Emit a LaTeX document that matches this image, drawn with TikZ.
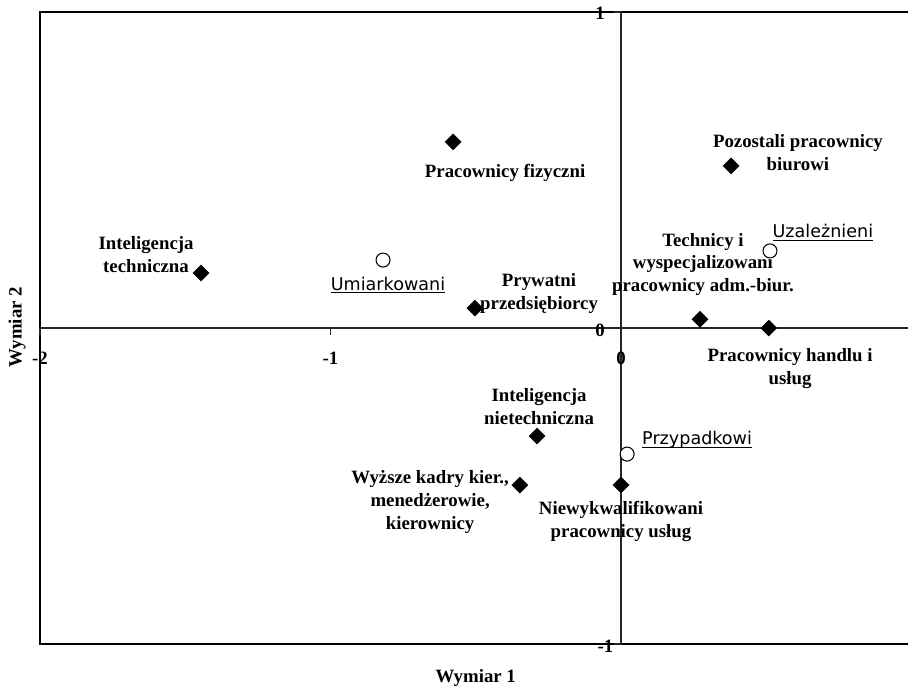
\documentclass[tikz,border=0pt]{standalone}
\usepackage{fontspec}
\setmainfont{Liberation Serif}
\newfontfamily\chartsans{DejaVu Sans}
\usepackage{tikz}
\usetikzlibrary{shapes.geometric}
\newcommand{\grp}[1]{\setbox0\hbox{\chartsans #1}\rlap{\rule[-1.8pt]{\wd0}{0.75pt}}\box0}

\begin{document}
\begin{tikzpicture}[
  x=5.81cm,y=6.32cm,
  every node/.style={inner sep=0pt},
  frame/.style={line width=1.1pt,black},
  axis/.style={line width=0.8pt,black!85},
  tick/.style={font=\fontsize{10.7}{13}\selectfont\bfseries},
  lbl/.style={font=\fontsize{10.7}{13}\selectfont\bfseries,align=center},
  grplbl/.style={font=\fontsize{10}{12}\selectfont},
  occ/.style={diamond,fill=black,minimum size=0.34cm},
  grp/.style={circle,draw=black,fill=white,line width=0.6pt,minimum size=0.28cm}
]
\useasboundingbox (-2.1377,-1.1329) rectangle (0.988,1.038);
% frame and axes
\draw[frame] (-2,-1) rectangle (1,1);
\draw[axis] (-2,0) -- (1,0);
\draw[axis] (0,-1) -- (0,1);
\foreach \t in {-2,-1,0,1}
  \draw[axis] (\t,0) -- ++(0,-0.022);
\foreach \t in {-1,0,1}
  \draw[axis] (0,\t) -- ++(-0.024,0);
% tick labels
\node[tick] (xm2) at (-2,-0.095) {-2};
\node[tick] (xm1) at (-1,-0.095) {-1};
\node[tick] (x0) at (0,-0.095) {0};
\node[tick] (x1) at (1,-0.095) {1};
\node[tick,anchor=east] (y1) at (-0.055,0.997) {1};
\node[tick,anchor=east] (y0) at (-0.055,-0.006) {0};
\node[tick,anchor=east] (ym1) at (-0.025,-1.006) {-1};
% axis titles
\node[lbl] (wym1) at (-0.5,-1.108) {Wymiar 1};
\node[lbl,rotate=90] (wym2) at (-2.079,0.003) {Wymiar 2};

% occupational categories
\node[occ] (fizyczni) at (-0.578,0.589) {};
\node[occ] (biurowi) at (0.379,0.513) {};
\node[occ] (inttech) at (-1.446,0.174) {};
\node[occ] (prywatni) at (-0.503,0.063) {};
\node[occ] (technicy) at (0.272,0.028) {};
\node[occ] (handel) at (0.509,0) {};
\node[occ] (intnietech) at (-0.289,-0.342) {};
\node[occ] (kadry) at (-0.348,-0.497) {};
\node[occ] (niewykw) at (0,-0.497) {};
\node[lbl] (fizyczni-l) at (-0.399,0.491) {Pracownicy fizyczni};
\node[lbl] (biurowi-l) at (0.609,0.554) {Pozostali pracownicy\\biurowi};
\node[lbl] (inttech-l) at (-1.635,0.233) {Inteligencja\\techniczna};
\node[lbl] (prywatni-l) at (-0.282,0.109) {Prywatni\\przedsiębiorcy};
\node[lbl] (technicy-l) at (0.282,0.201) {Technicy i\\wyspecjalizowani\\pracownicy adm.-biur.};
\node[lbl] (handel-l) at (0.582,-0.128) {Pracownicy handlu i\\usług};
\node[lbl] (intnietech-l) at (-0.282,-0.248) {Inteligencja\\nietechniczna};
\node[lbl] (kadry-l) at (-0.657,-0.551) {Wyższe kadry kier.,\\menedżerowie,\\kierownicy};
\node[lbl] (niewykw-l) at (0,-0.611) {Niewykwalifikowani\\pracownicy usług};

% respondent groups
\node[grp] (umiark) at (-0.819,0.215) {};
\node[grp] (uzalez) at (0.513,0.244) {};
\node[grp] (przypadk) at (0.021,-0.399) {};
\node[grplbl] (umiark-l) at (-0.802,0.136) {\grp{Umiarkowani}};
\node[grplbl] (uzalez-l) at (0.695,0.301) {\grp{Uzależnieni}};
\node[grplbl] (przypadk-l) at (0.262,-0.354) {\grp{Przypadkowi}};
\end{tikzpicture}
\end{document}
